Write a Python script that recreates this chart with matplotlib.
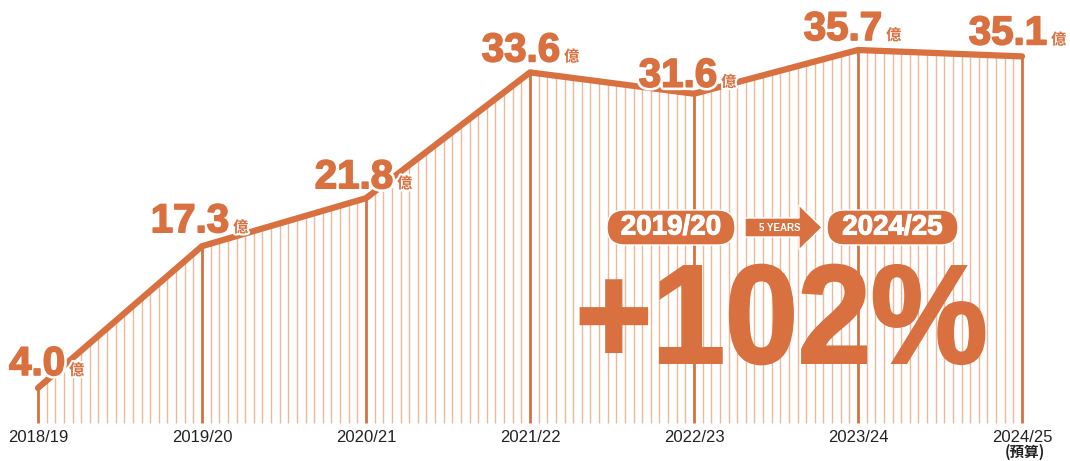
import numpy as np
import matplotlib.pyplot as plt
from matplotlib import patheffects as pe
from matplotlib.patches import FancyBboxPatch, Polygon, PathPatch
from matplotlib.textpath import TextPath
from matplotlib.font_manager import FontProperties
from matplotlib.transforms import Affine2D, IdentityTransform

# 數據
years = ['2018/19', '2019/20', '2020/21', '2021/22', '2022/23', '2023/24', '2024/25']
budget = [4.0, 17.3, 21.8, 33.6, 31.6, 35.7, 35.1]
unit = '億'
note = '(預算)'
growth_text = '+102%'
from_year = '2019/20'
to_year = '2024/25'
span_text = '5 YEARS'

# 標籤相對數據點的偏移 (像素)
label_dx = [27, 27, 27, 30, 23, 24, 25]
label_dy = [13, 14, 10, 11, 7, 10, 12]

orange = '#D87040'
light = '#EDB89C'
W, H = 1070, 461
sans = ['Liberation Sans', 'DejaVu Sans']
cjk = ['Noto Sans CJK TC', 'DejaVu Sans']
px2pt = 72 / 100

fig = plt.figure(figsize=(W / 100, H / 100), dpi=100)
ax = fig.add_axes([0, 0, 1, 1])
ax.set_xlim(-38 / 164, (W - 38) / 164)
ax.set_ylim(-2.85, 40.39)
ax.axis('off')

x = np.arange(len(years))
sub = 19
xs = np.linspace(0, len(years) - 1, (len(years) - 1) * sub + 1)
ys = np.interp(xs, x, budget)
minor = np.arange(len(xs)) % sub != 0

# 細線 + 年度線
ax.vlines(xs[minor], 0.75, ys[minor], color=light, lw=1, zorder=1)
ax.vlines(x, 0.75, budget, color=orange, lw=2, zorder=2)
ax.plot(x, budget, color=orange, lw=4.5, solid_capstyle='round',
        solid_joinstyle='round', zorder=3)

# 數值標籤
heavy = [pe.Stroke(linewidth=5, foreground='white'),
         pe.Stroke(linewidth=1.2, foreground=orange), pe.Normal()]
for xi, v, dx, dy in zip(x, budget, label_dx, label_dy):
    ax.annotate(f'{v:.1f}', (xi, v), xytext=(dx * px2pt, dy * px2pt),
                textcoords='offset points', ha='right', va='baseline',
                fontsize=29, fontweight='bold', family=sans, color=orange,
                path_effects=heavy, zorder=4)
    ax.annotate(unit, (xi, v), xytext=((dx + 4) * px2pt, dy * px2pt),
                textcoords='offset points', ha='left', va='baseline',
                fontsize=11, fontweight='bold', family=cjk, color=orange,
                path_effects=[pe.withStroke(linewidth=3, foreground='white')],
                zorder=4)

# x 軸標籤
for xi, yr in zip(x, years):
    ax.text(xi, -0.6, yr, ha='center', va='center', fontsize=12,
            family=sans, color='#222222')
ax.text(x[-1] + 0.02, -2.0, note, ha='center', va='center', fontsize=10.5,
        fontweight='bold', family=cjk, color='#222222')

# 年度徽章
ident = IdentityTransform()


def badge(x0, x1, y0, y1, label):
    box = FancyBboxPatch((x0, H - y1), x1 - x0, y1 - y0,
                         boxstyle=f'round,pad=0,rounding_size={(y1 - y0) / 2}',
                         fc=orange, ec='white', lw=1, transform=ident, zorder=5)
    fig.add_artist(box)
    fig.text((x0 + x1) / 2 / W, 1 - (y0 + y1) / 2 / H, label, ha='center',
             va='center', fontsize=20, fontweight='bold', family=sans,
             color='white', zorder=6,
             path_effects=[pe.withStroke(linewidth=0.8, foreground='white')])


badge(607, 735, 210, 245, from_year)
badge(827, 958, 210, 245, to_year)

arrow_pts = [(745, 218), (799, 218), (799, 205), (822, 227.5),
             (799, 250), (799, 237), (745, 237)]
fig.add_artist(Polygon([(px, H - py) for px, py in arrow_pts], closed=True,
                       fc=orange, ec='white', lw=1, transform=ident, zorder=5))
fig.text(780 / W, 1 - 227.5 / H, span_text, ha='center', va='center',
         fontsize=7, fontweight='bold', family=sans, color='white', zorder=6)

# 大字 +102%
fp = FontProperties(family=sans, weight='bold')
tp = TextPath((0, 0), growth_text, size=100, prop=fp)
bb = tp.get_extents()
tr = (Affine2D().translate(-bb.x0, -bb.y0)
      .scale(403 / bb.width, 99 / bb.height).translate(581, H - 364))
fig.add_artist(PathPatch(tr.transform_path(tp), fc=orange, ec=orange, lw=2,
                         transform=ident, zorder=5))

fig.savefig('out.png', dpi=100)
